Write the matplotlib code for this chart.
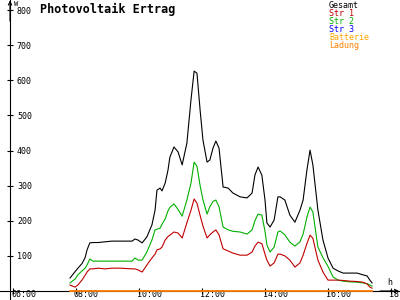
import matplotlib
matplotlib.use('Agg')
import matplotlib.pyplot as plt
from matplotlib.transforms import ScaledTranslation

# ================================
# Daten
# ================================
zeit = [7.81, 7.97, 8.06, 8.19, 8.29, 8.35, 8.44, 8.54, 8.70, 8.92,
        9.14, 9.40, 9.78, 9.87, 9.97, 10.10, 10.25, 10.41, 10.51, 10.57,
        10.67, 10.73, 10.83, 10.92, 10.98, 11.11, 11.24, 11.37, 11.52, 11.65,
        11.75, 11.84, 11.94, 12.03, 12.16, 12.25, 12.35, 12.44, 12.54, 12.67,
        12.83, 12.98, 13.21, 13.43, 13.59, 13.68, 13.78, 13.90, 14.00, 14.06,
        14.16, 14.29, 14.41, 14.48, 14.63, 14.79, 14.95, 15.11, 15.21, 15.33,
        15.43, 15.52, 15.68, 15.84, 16.00, 16.16, 16.32, 16.48, 16.70, 16.92,
        17.11, 17.24, 17.33, 17.40]

gesamt = [37, 55, 65, 78, 95, 117, 137, 138, 138, 140,
          142, 142, 142, 148, 145, 137, 154, 188, 230, 287,
          293, 285, 307, 344, 381, 410, 396, 359, 421, 544,
          626, 620, 515, 430, 367, 373, 407, 427, 407, 296,
          293, 279, 268, 265, 279, 330, 353, 330, 259, 194,
          182, 202, 268, 268, 259, 216, 196, 230, 259, 344,
          401, 359, 230, 145, 94, 65, 57, 51, 51, 51,
          46, 43, 31, 23]

str1 = [17, 11, 17, 31, 45, 54, 63, 63, 65, 63,
        65, 65, 63, 63, 60, 54, 74, 94, 105, 117,
        120, 125, 145, 155, 159, 168, 165, 151, 194, 230,
        262, 250, 215, 185, 151, 160, 168, 174, 160, 120,
        114, 108, 102, 102, 111, 128, 139, 135, 105, 88,
        71, 80, 105, 105, 100, 88, 68, 80, 102, 135,
        159, 150, 88, 54, 31, 31, 31, 30, 28, 27,
        25, 20, 11, 8]

str2 = [23, 34, 46, 57, 65, 74, 91, 85, 85, 85,
        85, 85, 85, 94, 88, 88, 111, 145, 174, 176,
        179, 190, 205, 228, 238, 248, 232, 213, 259, 307,
        367, 355, 300, 260, 219, 240, 255, 259, 240, 182,
        174, 170, 168, 162, 174, 200, 219, 216, 170, 131,
        111, 125, 168, 171, 160, 139, 128, 140, 162, 210,
        239, 225, 125, 95, 70, 40, 31, 28, 26, 25,
        23, 21, 17, 14]

ladung = [0] * len(zeit)

y_ticks = [100, 200, 300, 400, 500, 600, 700, 800]
x_ticks = [6, 8, 10, 12, 14, 16, 18]
x_labels = ['06:00', '08:00', '10:00', '12:00', '14:00', '16:00', '18:00']

legende = ['Gesamt', 'Str 1', 'Str 2', 'Str 3', 'Batterie', 'Ladung']

SCHWARZ = '#000000'
ROT = '#c00000'
GRUEN = '#00b000'
BLAU = '#0000ff'
BATT = '#ffa500'
LADUNG = '#ff8000'

FONT = 'DejaVu Sans Mono'
FS = 6

# ================================
# Plot
# ================================
fig = plt.figure(figsize=(4, 3), dpi=100)
ax = fig.add_axes([0, 0, 1, 1])

# Pixel-Zuordnung: 08:00 bei x=76, 31.5 px pro Stunde; 0 W bei y=291, 800 W bei y=10
x0 = 8 - 76 / 31.5
x1 = 8 + (400 - 76) / 31.5
wpp = 800 / (291 - 10)
ax.set_xlim(x0, x1)
ax.set_ylim(-9 * wpp, 291 * wpp)
y_achse = 8 + (10 - 76) / 31.5

lw = 0.8
ax.plot(zeit, gesamt, color=SCHWARZ, lw=lw, zorder=3)
ax.plot(zeit, str2, color=GRUEN, lw=lw, zorder=4)
ax.plot(zeit, str1, color=ROT, lw=lw, zorder=5)

for s in ['top', 'right']:
    ax.spines[s].set_visible(False)
ax.spines['left'].set_position(('data', y_achse))
ax.spines['bottom'].set_position(('data', 0))
ax.spines['left'].set_linewidth(lw)
ax.spines['bottom'].set_linewidth(lw)

# Ladung-Linie auf der x-Achse
ax.plot(zeit, ladung, color=LADUNG, lw=1.3, zorder=6, clip_on=False)

# Pfeile
pfeil = dict(arrowstyle='->', lw=lw, color='black', shrinkA=0, shrinkB=0,
             mutation_scale=6)
ax.annotate('', xy=(y_achse, 290.5 * wpp), xytext=(y_achse, 270 * wpp),
            arrowprops=pfeil)
ax.annotate('', xy=(x0 + 399 / 31.5, 0), xytext=(x0 + 380 / 31.5, 0),
            arrowprops=pfeil)

tick_len = 6 * 0.72
ax.set_yticks(y_ticks, labels=[str(v) for v in y_ticks], ha='left',
              family=FONT, fontsize=FS)
ax.tick_params(axis='y', direction='inout', length=tick_len, width=lw,
               pad=-5 - tick_len / 2)
ax.set_xticks(x_ticks, labels=x_labels, ha='left', family=FONT, fontsize=FS)
ax.tick_params(axis='x', direction='inout', length=tick_len, width=lw,
               pad=-tick_len / 2 - 0.4)

# Beschriftung der Zeitachse 2 px nach links
versatz = ScaledTranslation(-2 / 100, 0, fig.dpi_scale_trans)
for lbl in ax.get_xticklabels():
    lbl.set_transform(lbl.get_transform() + versatz)

ax.text(y_achse + 3.5 / 31.5, 290 * wpp, 'W', family=FONT, fontsize=5,
        ha='left', va='top')
ax.text(x0 + 387 / 31.5, 4 * wpp, 'h', family=FONT, fontsize=FS,
        ha='left', va='bottom')

fig.text(40 / 400, 1 - 3 / 300, 'Photovoltaik Ertrag', family=FONT,
         fontsize=8.5, fontweight='bold', ha='left', va='top')

farben = [SCHWARZ, ROT, GRUEN, BLAU, BATT, LADUNG]
for i, (name, c) in enumerate(zip(legende, farben)):
    fig.text(329 / 400, 1 - (1 + 8 * i) / 300, name, family=FONT, fontsize=FS,
             color=c, ha='left', va='top')

fig.savefig('out.png', dpi=100)
